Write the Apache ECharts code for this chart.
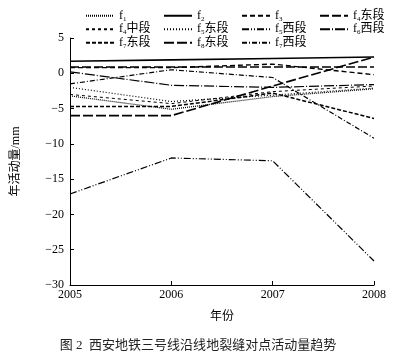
<!DOCTYPE html>
<html>
<head>
<meta charset="utf-8">
<script src="https://cdn.jsdelivr.net/npm/echarts@6/dist/echarts.min.js"></script>
<style>
html, body { margin: 0; padding: 0; background: #fff; }
#main { width: 396px; height: 353px; }
</style>
</head>
<body>
<div id="main"></div>
<script type="text/javascript">
// 年份
var years = ['2005', '2006', '2007', '2008'];
// 各地裂缝年活动量 (mm)
var f1 = [-3.2, -5.1, -3.3, -2.2];
var f2 = [1.7, 1.9, 2.1, 2.3];
var f3 = [0.8, 0.8, 1.3, -0.2];
var f4East = [0.9, 0.9, 0.9, 0.9];
var f4Mid = [-3.0, -4.3, -2.6, -1.8];
var f5East = [-2.0, -4.0, -3.1, -2.1];
var f5West = [-17.1, -12.0, -12.4, -26.6];
var f6West = [0.2, -1.7, -2.0, -1.6];
var f7East = [-4.7, -4.7, -2.8, -6.4];
var f8East = [-6.0, -6.0, -1.8, 2.3];
var f7West = [-1.5, 0.5, -0.6, -9.2];

var FONT = '"Liberation Serif", "Noto Sans CJK SC", serif';

function mk(name, data, type, width) {
    return {
        name: name,
        type: 'line',
        data: data,
        symbol: 'none',
        color: '#000',
        itemStyle: { color: '#000' },
        lineStyle: { color: '#000', width: width || 1.2, type: type }
    };
}

var chart = echarts.init(document.getElementById('main'));
var option = {
    animation: false,
    backgroundColor: '#fff',
    title: {
        text: '图 2  西安地铁三号线沿线地裂缝对点活动量趋势',
        left: 'center',
        top: 334,
        textStyle: { fontFamily: FONT, fontSize: 13, fontWeight: 'normal', color: '#222' }
    },
    legend: {
        left: 80,
        top: 4,
        width: 312,
        itemWidth: 28,
        itemHeight: 8,
        itemGap: 0,
        itemStyle: { opacity: 0 },
        data: ['f1', 'f2', 'f3', 'f4东段', 'f4中段', 'f5东段', 'f5西段', 'f6西段', 'f7东段', 'f8东段', 'f7西段'],
        formatter: function (n) {
            var m = n.match(/^f(\d)(.*)$/);
            return 'f{sub|' + m[1] + '}' + m[2];
        },
        textStyle: {
            fontFamily: FONT,
            fontSize: 12,
            color: '#000',
            width: 44,
            lineHeight: 13.5,
            rich: { sub: { fontSize: 7, verticalAlign: 'bottom', fontFamily: FONT, color: '#000', lineHeight: 12 } }
        }
    },
    grid: { left: 70, right: 22, top: 38, bottom: 68 },
    xAxis: {
        type: 'category',
        data: years,
        boundaryGap: false,
        name: '年份',
        nameLocation: 'middle',
        nameGap: 26,
        nameTextStyle: { fontFamily: FONT, fontSize: 12, color: '#000' },
        axisLine: { onZero: false, lineStyle: { color: '#000', width: 1 } },
        axisTick: { inside: true, length: 4, lineStyle: { color: '#000' } },
        axisLabel: { fontFamily: FONT, fontSize: 12, color: '#000', margin: 4 },
        splitLine: { show: false }
    },
    yAxis: {
        type: 'value',
        min: -30,
        max: 5,
        interval: 5,
        name: '年活动量/mm',
        nameLocation: 'middle',
        nameRotate: 90,
        nameGap: 48,
        nameTextStyle: { fontFamily: FONT, fontSize: 12, color: '#000' },
        axisLine: { show: true, lineStyle: { color: '#000', width: 1 } },
        axisTick: { show: true, inside: true, length: 4, lineStyle: { color: '#000' } },
        axisLabel: {
            fontFamily: FONT, fontSize: 12, color: '#000', margin: 6,
            formatter: function (v) { return String(v).replace('-', '\u2212'); }
        },
        splitLine: { show: false }
    },
    series: [
        mk('f1', f1, [1, 1]),
        mk('f2', f2, 'solid', 1.6),
        mk('f3', f3, [5, 3], 1.4),
        mk('f4东段', f4East, [9, 3], 1.6),
        mk('f4中段', f4Mid, [3, 3], 1),
        mk('f5东段', f5East, [1, 2], 1.2),
        mk('f5西段', f5West, [7, 2, 1, 2, 1, 2], 1.2),
        mk('f6西段', f6West, [10, 2, 1, 2], 1.2),
        mk('f7东段', f7East, [4, 2], 1.5),
        mk('f8东段', f8East, [10, 3], 1.6),
        mk('f7西段', f7West, [5, 2, 1, 2], 1.2)
    ]
};
chart.setOption(option);
</script>
</body>
</html>
